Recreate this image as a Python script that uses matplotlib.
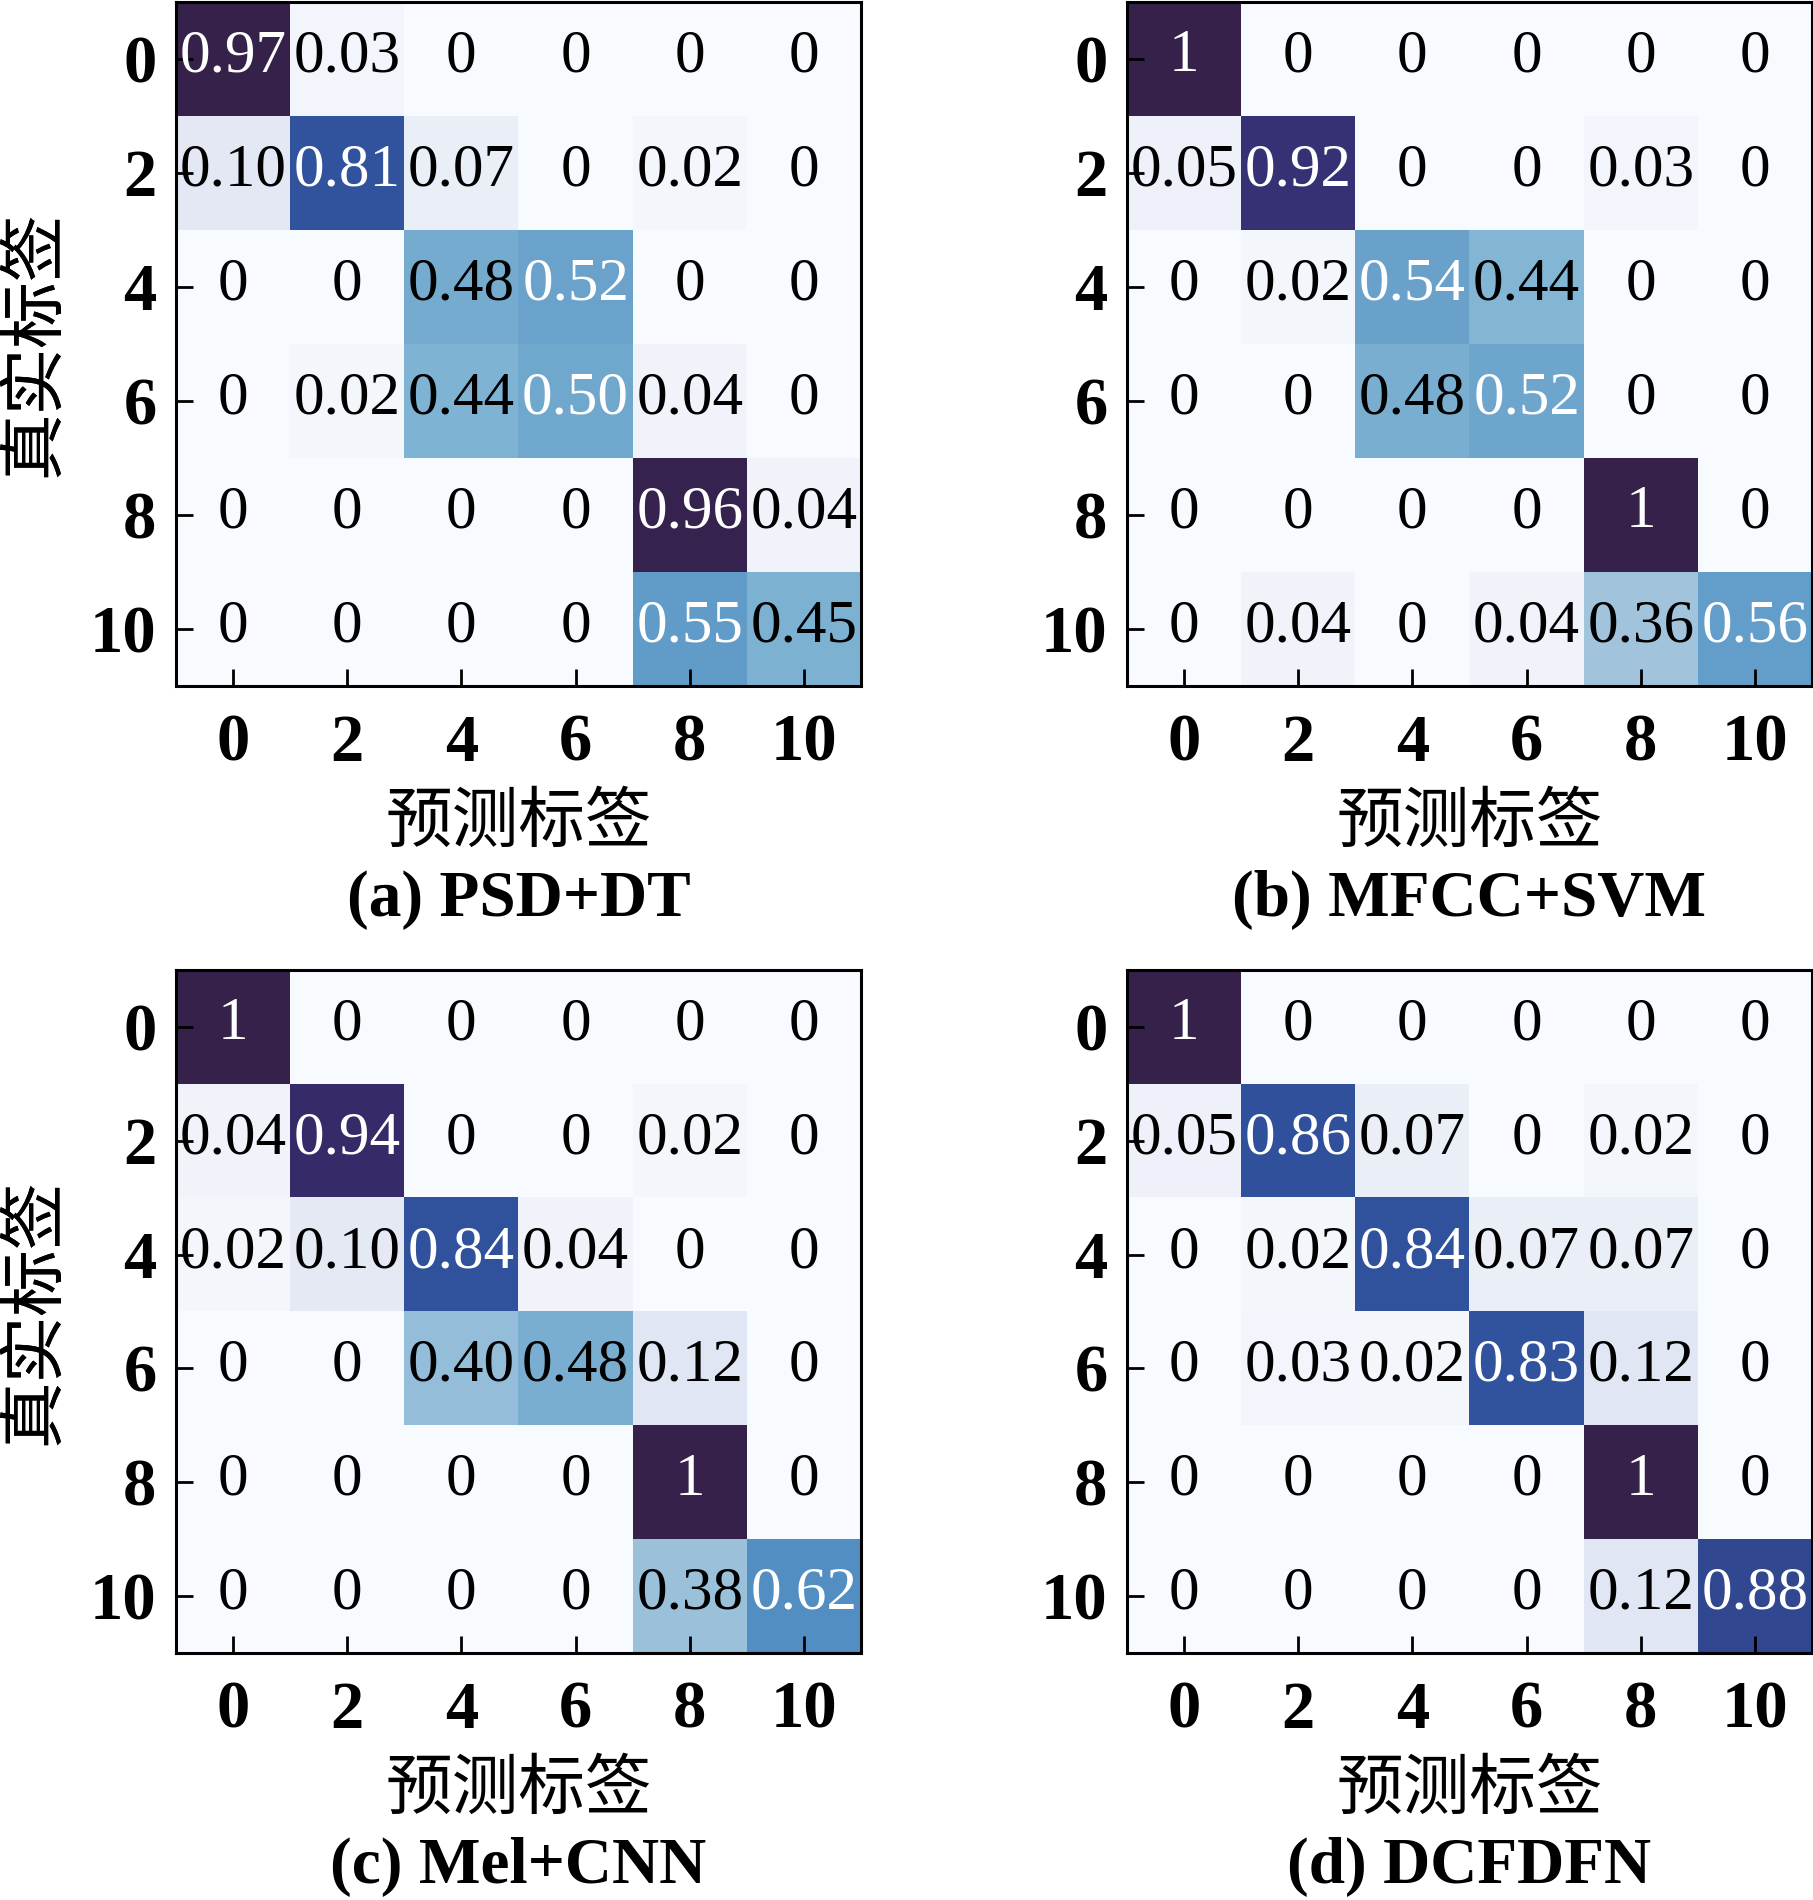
"""
Four confusion matrices (PSD+DT, MFCC+SVM, Mel+CNN, DCFDFN)
drawn in a 2x2 grid with Chinese axis labels.
"""
import numpy as np
import matplotlib
matplotlib.use('Agg')
import matplotlib.pyplot as plt
from matplotlib.colors import LinearSegmentedColormap

# class labels shown on both axes
classes = [0, 2, 4, 6, 8, 10]

# confusion matrices (rows = true, cols = predicted)
cm_psd_dt = [
    [0.97, 0.03, 0, 0, 0, 0],
    [0.10, 0.81, 0.07, 0, 0.02, 0],
    [0, 0, 0.48, 0.52, 0, 0],
    [0, 0.02, 0.44, 0.50, 0.04, 0],
    [0, 0, 0, 0, 0.96, 0.04],
    [0, 0, 0, 0, 0.55, 0.45],
]
cm_mfcc_svm = [
    [1, 0, 0, 0, 0, 0],
    [0.05, 0.92, 0, 0, 0.03, 0],
    [0, 0.02, 0.54, 0.44, 0, 0],
    [0, 0, 0.48, 0.52, 0, 0],
    [0, 0, 0, 0, 1, 0],
    [0, 0.04, 0, 0.04, 0.36, 0.56],
]
cm_mel_cnn = [
    [1, 0, 0, 0, 0, 0],
    [0.04, 0.94, 0, 0, 0.02, 0],
    [0.02, 0.10, 0.84, 0.04, 0, 0],
    [0, 0, 0.40, 0.48, 0.12, 0],
    [0, 0, 0, 0, 1, 0],
    [0, 0, 0, 0, 0.38, 0.62],
]
cm_dcfdfn = [
    [1, 0, 0, 0, 0, 0],
    [0.05, 0.86, 0.07, 0, 0.02, 0],
    [0, 0.02, 0.84, 0.07, 0.07, 0],
    [0, 0.03, 0.02, 0.83, 0.12, 0],
    [0, 0, 0, 0, 1, 0],
    [0, 0, 0, 0, 0.12, 0.88],
]
captions = ['(a) PSD+DT', '(b) MFCC+SVM', '(c) Mel+CNN', '(d) DCFDFN']

xlabel = '预测标签'
ylabel = '真实标签'

# colour map (white -> blue -> dark purple)
cmap = LinearSegmentedColormap.from_list('cm_blue_purple', [
    (0.00, '#f7fbff'),
    (0.04, '#f0f3fa'),
    (0.12, '#e0e6f3'),
    (0.36, '#a3c4dd'),
    (0.44, '#83b6d5'),
    (0.50, '#74aacf'),
    (0.56, '#649eca'),
    (0.62, '#528ec2'),
    (0.81, '#3255a0'),
    (0.87, '#30509b'),
    (0.93, '#372d6e'),
    (1.00, '#35214a'),
])

serif = ['Liberation Serif', 'DejaVu Serif']
cjk = ['Noto Sans CJK SC', 'DejaVu Sans']

fig = plt.figure(figsize=(18.13, 19.0), dpi=100)

# axes boxes in pixels (left, top, right, bottom)
W, H = 1813, 1900
boxes = [
    (176, 2, 861, 686),
    (1127, 2, 1812, 686),
    (176, 970, 861, 1653),
    (1127, 970, 1812, 1653),
]

for (x0, y0, x1, y1), cm, cap in zip(boxes, [cm_psd_dt, cm_mfcc_svm, cm_mel_cnn, cm_dcfdfn], captions):
    ax = fig.add_axes([x0 / W, 1 - y1 / H, (x1 - x0) / W, (y1 - y0) / H])
    cm = np.array(cm, dtype=float)
    ax.imshow(cm, cmap=cmap, aspect='auto', interpolation='nearest')
    thresh = (cm.max() + cm.min()) / 2

    for i in range(cm.shape[0]):
        for j in range(cm.shape[1]):
            v = cm[i, j]
            if v == 0:
                s = '0'
            elif v == 1:
                s = '1'
            else:
                s = f'{v:.2f}'
            ax.text(j, i - 0.02, s, ha='center', va='center', fontsize=44,
                    family=serif, color='white' if v > thresh else 'black')

    ax.set_xticks(range(len(classes)))
    ax.set_yticks(range(len(classes)))
    ax.set_xticklabels(classes, fontsize=48, fontweight='bold', family=serif)
    ax.set_yticklabels(classes, fontsize=48, fontweight='bold', family=serif)
    ax.tick_params(direction='in', length=12, width=2, pad=14)
    ax.tick_params(axis='x', pad=20)
    for sp in ax.spines.values():
        sp.set_linewidth(2.2)

    h = y1 - y0
    ax.text(0.5, -(823 - 686) / h, xlabel, transform=ax.transAxes, ha='center',
            va='center', fontsize=48, family=cjk)
    ax.text(-(x0 - 34) / (x1 - x0), 0.5, ylabel, transform=ax.transAxes, ha='center',
            va='center', rotation=90, fontsize=48, family=cjk)
    ax.text(0.5, -(900 - 686) / h, cap, transform=ax.transAxes, ha='center',
            va='center', fontsize=47, fontweight='bold', family=serif)

fig.savefig('out.png', dpi=100)
